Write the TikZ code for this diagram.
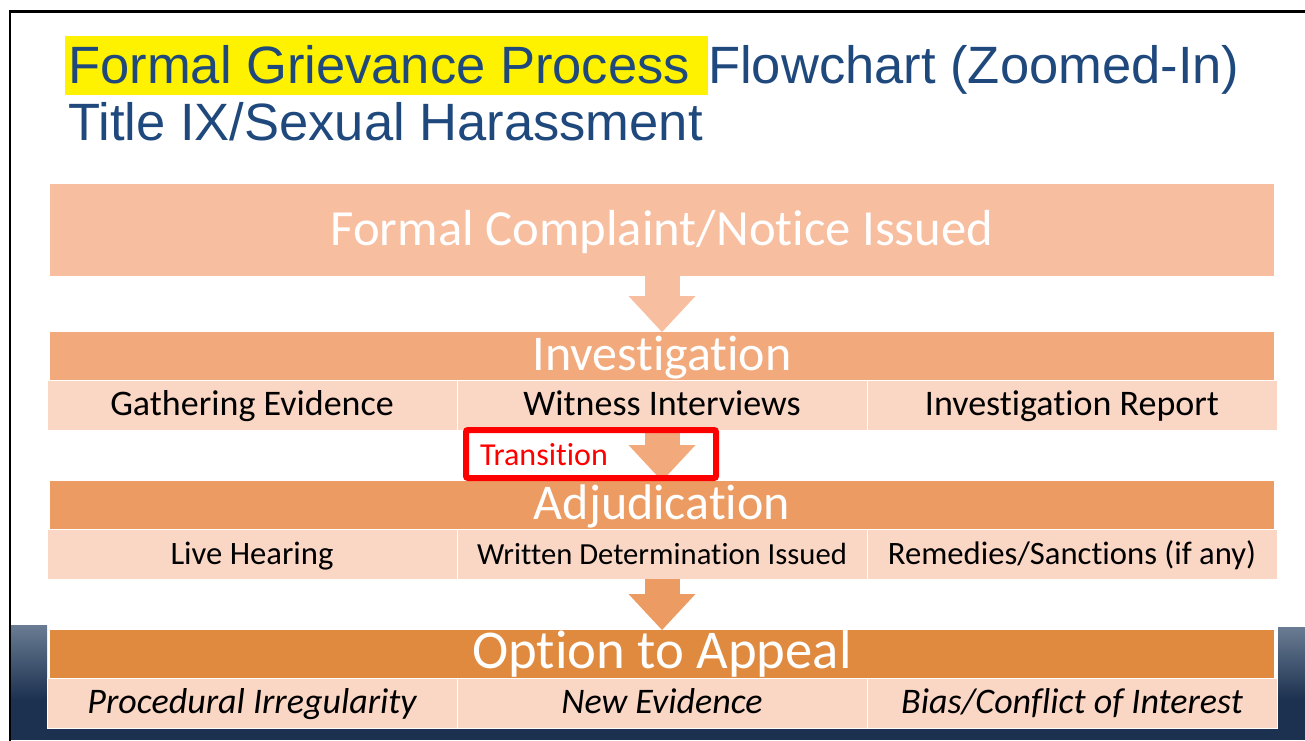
\documentclass[tikz,border=0pt]{standalone}
\usepackage{fontspec}
\setmainfont{Carlito}[Ligatures=NoCommon]
\newfontfamily\titlefont{Liberation Sans}
\usetikzlibrary{positioning,arrows.meta}
\definecolor{titleblue}{HTML}{1F497D}
\definecolor{complaint}{HTML}{F8BEA0}
\definecolor{invest}{HTML}{F2AA7C}
\definecolor{adjud}{HTML}{EC9C62}
\definecolor{appeal}{HTML}{E08A40}
\definecolor{subrow}{HTML}{FAD6C5}
\definecolor{navy}{HTML}{1C3150}
\definecolor{steel}{HTML}{6A7C93}
\begin{document}
\begin{tikzpicture}[x=0.75pt,y=-0.75pt,
    headbox/.style={rectangle,inner sep=0pt,outer sep=0pt,minimum width=918pt,text=white,
      font=\fontsize{37.5}{40}\selectfont,text height=28.5pt,text depth=7.5pt},
    subcell/.style={rectangle,fill=subrow,draw=white,line width=0.75pt,inner sep=0pt,outer sep=0pt,
      minimum width=307.5pt,text height=26.25pt,text depth=11.25pt},
    titletext/.style={anchor=base west,inner sep=0pt,text=titleblue,font=\titlefont\fontsize{39.4}{44}\selectfont},
    blockarrow/.style={line width=26.25pt,-{Triangle[width=50.25pt,length=27pt,line width=0pt]}}]
  \useasboundingbox (0,0) rectangle (1305,740);

  % dark slide footer
  \shade[top color=steel,bottom color=navy] (11,625) rectangle (47,700);
  \fill[navy] (11,699) rectangle (47,740);
  \shade[top color=steel,bottom color=navy] (1278,627) rectangle (1305,700);
  \fill[navy] (1278,699) rectangle (1305,740);
  \fill[navy] (11,727) rectangle (1305,740);
  \draw[line width=2pt] (10,745) |- (1310,11.3);

  % title
  \node[titletext,fill=yellow,inner xsep=2.25pt,text height=35.25pt,text depth=9pt] (hl) at (65,83) {Formal Grievance Process\ \mbox{}};
  \node[titletext] (flow) at (hl.base east) {Flowchart (Zoomed-In)};
  \node[titletext] (topic) at (68,140) {Title IX/Sexual Harassment};

  \node[headbox,fill=complaint,anchor=north,text height=45.75pt,text depth=23.25pt,font=\fontsize{38}{40}\selectfont] (complaint) at (662,184) {Formal Complaint/Notice Issued};

  \node[headbox,fill=invest,anchor=north] (inv) at (662,332) {Investigation};
  \node[subcell,anchor=north west,font=\fontsize{27}{30}\selectfont] (gather) at (47,380) {Gathering Evidence};
  \node[subcell,right=0pt of gather,font=\fontsize{27}{30}\selectfont] (witness) {Witness Interviews};
  \node[subcell,right=0pt of witness,font=\fontsize{27}{30}\selectfont] (report) {Investigation Report};

  \node[headbox,fill=adjud,anchor=north] (adj) at (662,481) {Adjudication};
  \node[subcell,anchor=north west,font=\fontsize{24.5}{27}\selectfont] (hearing) at (47,529) {Live Hearing};
  \node[subcell,right=0pt of hearing,font=\fontsize{23}{26}\selectfont] (written) {Written Determination Issued};
  \node[subcell,right=0pt of written,font=\fontsize{24.5}{27}\selectfont] (remedies) {Remedies/Sanctions (if any)};

  \node[headbox,fill=appeal,anchor=north,font=\fontsize{41}{44}\selectfont] (app) at (662,630) {Option to Appeal};
  \node[subcell,anchor=north west,font=\fontsize{27}{30}\itshape] (irreg) at (47,678) {Procedural Irregularity};
  \node[subcell,right=0pt of irreg,font=\fontsize{27}{30}\itshape] (newev) {New Evidence};
  \node[subcell,right=0pt of newev,font=\fontsize{27}{30}\itshape] (bias) {Bias/Conflict of Interest};

  \draw[blockarrow,complaint] (complaint) -- (inv);
  \draw[blockarrow,invest] (witness) -- (adj);
  \draw[blockarrow,adjud] (written) -- (app);

  \node[draw=red,line width=4.5pt,rounded corners=1.5pt,anchor=north west,outer sep=0pt,
    inner xsep=10.5pt,inner ysep=0pt,text width=166.5pt,text height=26.25pt,text depth=9.75pt,
    align=left,text=red,font=\fontsize{24}{26}\selectfont] (trans) at (466,430) {Transition};
\end{tikzpicture}
\end{document}
